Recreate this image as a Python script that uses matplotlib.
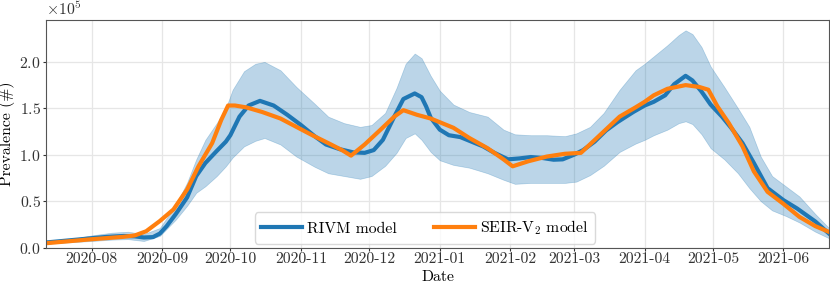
import matplotlib
matplotlib.use("Agg")
import matplotlib.pyplot as plt
import matplotlib.dates as mdates
import pandas as pd
import numpy as np

plt.rcParams['font.family'] = ['cmr10', 'DejaVu Serif']
plt.rcParams['mathtext.fontset'] = 'cm'
plt.rcParams['axes.unicode_minus'] = False
plt.rcParams['axes.formatter.use_mathtext'] = True

# RIVM model (prevalence, x1e5)
rivm_dates = ["2020-07-12", "2020-07-20", "2020-07-27", "2020-08-01", "2020-08-08", "2020-08-15",
              "2020-08-20", "2020-08-24", "2020-08-28", "2020-08-31", "2020-09-03", "2020-09-07",
              "2020-09-12", "2020-09-16", "2020-09-20", "2020-09-25", "2020-09-29", "2020-10-01",
              "2020-10-05", "2020-10-09", "2020-10-14", "2020-10-20", "2020-10-26", "2020-11-01",
              "2020-11-07", "2020-11-12", "2020-11-18", "2020-11-24", "2020-11-29", "2020-12-03",
              "2020-12-07", "2020-12-12", "2020-12-16", "2020-12-21", "2020-12-24", "2020-12-26",
              "2020-12-28", "2021-01-01", "2021-01-05", "2021-01-10", "2021-01-15", "2021-01-20",
              "2021-01-25", "2021-01-31", "2021-02-05", "2021-02-10", "2021-02-15", "2021-02-20",
              "2021-02-24", "2021-03-01", "2021-03-05", "2021-03-10", "2021-03-15", "2021-03-20",
              "2021-03-27", "2021-04-01", "2021-04-05", "2021-04-10", "2021-04-14", "2021-04-19",
              "2021-04-22", "2021-04-26", "2021-04-30", "2021-05-05", "2021-05-09", "2021-05-14",
              "2021-05-19", "2021-05-25", "2021-06-01", "2021-06-07", "2021-06-15", "2021-06-21"]
rivm_values = [0.054, 0.072, 0.088, 0.100, 0.115, 0.124,
               0.120, 0.108, 0.112, 0.150, 0.230, 0.360,
               0.540, 0.770, 0.910, 1.040, 1.140, 1.210,
               1.410, 1.530, 1.580, 1.530, 1.430, 1.320,
               1.200, 1.110, 1.060, 1.025, 1.020, 1.050,
               1.160, 1.410, 1.600, 1.660, 1.620, 1.520,
               1.400, 1.270, 1.210, 1.190, 1.140, 1.090,
               1.020, 0.950, 0.960, 0.975, 0.965, 0.946,
               0.950, 1.000, 1.050, 1.140, 1.260, 1.350,
               1.460, 1.530, 1.570, 1.640, 1.760, 1.850,
               1.800, 1.680, 1.540, 1.410, 1.290, 1.125,
               0.910, 0.640, 0.510, 0.420, 0.280, 0.150]

# RIVM uncertainty band (x1e5)
band_dates = ["2020-07-12", "2020-07-25", "2020-08-01", "2020-08-10", "2020-08-17", "2020-08-24",
              "2020-08-31", "2020-09-07", "2020-09-12", "2020-09-16", "2020-09-20", "2020-09-25",
              "2020-09-29", "2020-10-02", "2020-10-07", "2020-10-12", "2020-10-16", "2020-10-23",
              "2020-10-30", "2020-11-07", "2020-11-13", "2020-11-20", "2020-11-27", "2020-12-02",
              "2020-12-08", "2020-12-13", "2020-12-17", "2020-12-21", "2020-12-24", "2020-12-28",
              "2021-01-01", "2021-01-07", "2021-01-14", "2021-01-22", "2021-01-29", "2021-02-03",
              "2021-02-10", "2021-02-17", "2021-02-25", "2021-03-02", "2021-03-08", "2021-03-14",
              "2021-03-21", "2021-03-28", "2021-04-01", "2021-04-05", "2021-04-11", "2021-04-16",
              "2021-04-19", "2021-04-22", "2021-04-26", "2021-04-30", "2021-05-06", "2021-05-12",
              "2021-05-17", "2021-05-22", "2021-05-27", "2021-06-02", "2021-06-08", "2021-06-15",
              "2021-06-21"]
band_lower = [0.040, 0.060, 0.070, 0.085, 0.090, 0.070,
              0.125, 0.300, 0.450, 0.590, 0.660, 0.770,
              0.875, 0.970, 1.090, 1.150, 1.180, 1.110,
              0.980, 0.870, 0.800, 0.770, 0.740, 0.770,
              0.880, 1.020, 1.180, 1.230, 1.160, 1.030,
              0.940, 0.890, 0.860, 0.800, 0.730, 0.686,
              0.696, 0.696, 0.696, 0.710, 0.780, 0.880,
              1.030, 1.120, 1.160, 1.210, 1.270, 1.340,
              1.360, 1.330, 1.220, 1.070, 0.950, 0.800,
              0.640, 0.500, 0.400, 0.340, 0.270, 0.170,
              0.100]
band_upper = [0.070, 0.100, 0.130, 0.160, 0.170, 0.145,
              0.210, 0.460, 0.700, 0.950, 1.160, 1.340,
              1.500, 1.700, 1.900, 1.980, 2.000, 1.910,
              1.730, 1.550, 1.410, 1.340, 1.300, 1.320,
              1.450, 1.720, 1.980, 2.090, 2.040, 1.850,
              1.690, 1.540, 1.460, 1.410, 1.270, 1.220,
              1.210, 1.210, 1.200, 1.230, 1.300, 1.450,
              1.700, 1.910, 1.980, 2.060, 2.180, 2.290,
              2.340, 2.300, 2.160, 1.950, 1.730, 1.500,
              1.300, 0.980, 0.770, 0.660, 0.550, 0.360,
              0.210]

# SEIR-V2 model (x1e5)
seir_dates = ["2020-07-12", "2020-08-01", "2020-08-15", "2020-08-20", "2020-08-25", "2020-08-31",
              "2020-09-06", "2020-09-12", "2020-09-17", "2020-09-23", "2020-09-27", "2020-09-30",
              "2020-10-03", "2020-10-08", "2020-10-15", "2020-10-23", "2020-10-30", "2020-11-06",
              "2020-11-13", "2020-11-19", "2020-11-23", "2020-11-29", "2020-12-06", "2020-12-12",
              "2020-12-16", "2020-12-22", "2020-12-28", "2021-01-01", "2021-01-07", "2021-01-14",
              "2021-01-22", "2021-01-29", "2021-02-02", "2021-02-09", "2021-02-17", "2021-02-25",
              "2021-03-04", "2021-03-11", "2021-03-21", "2021-03-28", "2021-04-01", "2021-04-05",
              "2021-04-11", "2021-04-19", "2021-04-25", "2021-04-29", "2021-05-03", "2021-05-08",
              "2021-05-14", "2021-05-19", "2021-05-25", "2021-06-01", "2021-06-08", "2021-06-15",
              "2021-06-21"]
seir_values = [0.046, 0.089, 0.115, 0.130, 0.175, 0.285,
               0.410, 0.625, 0.875, 1.125, 1.375, 1.530,
               1.530, 1.510, 1.460, 1.390, 1.300, 1.210,
               1.125, 1.050, 0.990, 1.110, 1.270, 1.410,
               1.480, 1.430, 1.390, 1.350, 1.290, 1.180,
               1.070, 0.950, 0.875, 0.930, 0.980, 1.010,
               1.020, 1.180, 1.410, 1.510, 1.570, 1.640,
               1.710, 1.750, 1.730, 1.700, 1.520, 1.340,
               1.090, 0.820, 0.600, 0.470, 0.330, 0.230,
               0.168]

scale = 1e5
rd = pd.to_datetime(rivm_dates)
bd = pd.to_datetime(band_dates)
sd = pd.to_datetime(seir_dates)

fig = plt.figure(figsize=(8.3, 2.84), dpi=100)
ax = fig.add_axes([46/830, 1-247.5/284, (829-46)/830, (247.5-19.5)/284])

ax.fill_between(bd, np.array(band_lower)*scale, np.array(band_upper)*scale,
                color='#1f77b4', alpha=0.3, linewidth=0.5)
ax.plot(rd, np.array(rivm_values)*scale, color='#1f77b4', lw=3, label='RIVM model')
ax.plot(sd, np.array(seir_values)*scale, color='#ff7f0e', lw=3, label=r'SEIR-V$_2$ model')

ax.set_xlim(rd[0], rd[-1])
ax.set_ylim(0, 2.457e5)
ax.set_yticks([0, 0.5e5, 1.0e5, 1.5e5, 2.0e5])
ax.ticklabel_format(axis='y', style='sci', scilimits=(0, 0))
ax.xaxis.set_major_locator(mdates.MonthLocator())
ax.xaxis.set_major_formatter(mdates.DateFormatter('%Y-%m'))

fs = 11.3
ax.tick_params(labelsize=fs, colors='#333333', length=2.2, pad=1.5, width=0.8)
ax.yaxis.get_offset_text().set_fontsize(fs)
ax.set_xlabel('Date', fontsize=fs, labelpad=3)
ax.set_ylabel('Prevalence (#)', fontsize=fs, labelpad=3)
ax.grid(True, color='#e6e6e6', linewidth=0.9)
ax.set_axisbelow(True)
for s in ax.spines.values():
    s.set_color('#555555')

leg = ax.legend(loc='lower center', bbox_to_anchor=(0.484, 0.017), ncol=2,
                fontsize=fs, borderaxespad=0, columnspacing=2.4, handlelength=2.6,
                handletextpad=0.3, borderpad=0.4,
                framealpha=0.8, edgecolor='#d0d0d0')

fig.savefig('out.png', dpi=100)
